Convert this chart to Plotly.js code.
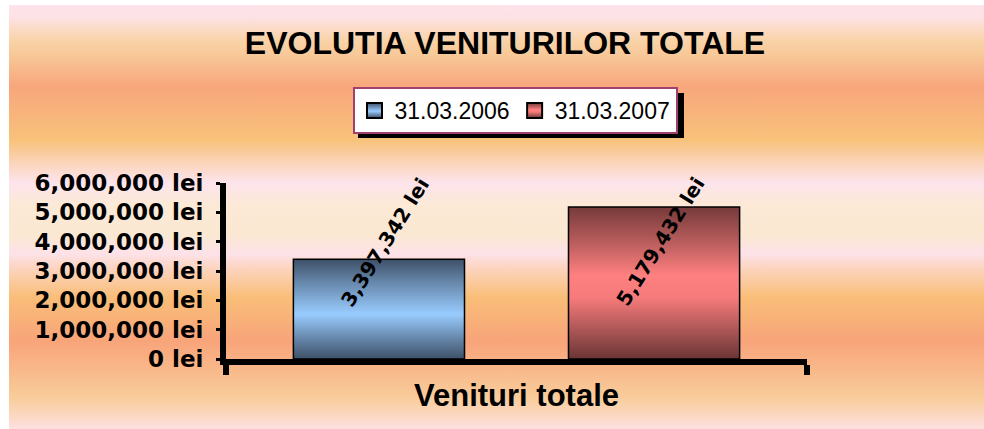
<!DOCTYPE html>
<html>
<head>
<meta charset="utf-8">
<script src="https://cdn.plot.ly/plotly-3.0.1.min.js"></script>
<style>
  html, body { margin: 0; padding: 0; background: #ffffff; }
  #bg {
    position: absolute; left: 9px; top: 5px; right: 0; bottom: 0;
    background: linear-gradient(to bottom,
      #fde4ea 0px, #fde2e4 13px, #f9d3a8 35px, #f8c898 50px, #f8a67c 82px,
      #f8c27a 135px, #fbd6c0 160px, #fde4ec 178px, #fce9d6 200px, #fbe8d2 230px,
      #fde2e8 249px, #fcd4c0 263px, #f9be78 292px, #f8a47a 336px, #f9cc9a 392px,
      #fde0e0 424px);
  }
  #chart { position: absolute; left: 0; top: 0; width: 984px; height: 429px; }
</style>
</head>
<body>
<div id="bg"></div>
<div id="chart"></div>
<script>
// ---- data ----
const categories = ["Venituri totale"];
const seriesNames = ["31.03.2006", "31.03.2007"];
const values2006 = [3397342];
const values2007 = [5179432];
const yTickVals = [0, 1000000, 2000000, 3000000, 4000000, 5000000, 6000000];
const yTickText = ["0 lei", "1,000,000 lei", "2,000,000 lei", "3,000,000 lei", "4,000,000 lei", "5,000,000 lei", "6,000,000 lei"];
const chartTitle = "EVOLUTIA VENITURILOR TOTALE";

const fmt = v => v.toLocaleString('en-US') + ' lei';

const bargap = 0.053;
const bargroupgap = 0.378;
const slot = (1 - bargap) / 2;

const traces = [
  { type: 'bar', name: seriesNames[0], x: categories, y: values2006,
    marker: { color: '#99ccff', line: { color: '#000000', width: 1.5 } }, hoverinfo: 'none' },
  { type: 'bar', name: seriesNames[1], x: categories, y: values2007,
    marker: { color: '#ff8080', line: { color: '#000000', width: 1.5 } }, hoverinfo: 'none' }
];

const labelFont = { family: 'DejaVu Sans, Arial', size: 20, color: '#000000', weight: 'bold' };
const annotations = [values2006, values2007].map((vals, i) => ({
  xref: 'x', yref: 'y',
  x: (i === 0 ? -slot / 2 : slot / 2), y: 4000000,
  xshift: 6,
  text: '<b>' + fmt(vals[0]) + '</b>',
  showarrow: false, textangle: -58,
  xanchor: 'center', yanchor: 'middle',
  font: labelFont
}));

const layout = {
  width: 984, height: 429,
  margin: { l: 226, r: 177, t: 183, b: 70 },
  paper_bgcolor: 'rgba(0,0,0,0)',
  plot_bgcolor: 'rgba(0,0,0,0)',
  barmode: 'group', bargap: bargap, bargroupgap: bargroupgap,
  showlegend: true,
  title: {
    text: '<b>' + chartTitle + '</b>',
    font: { family: 'Liberation Sans, Arial', size: 32, color: '#000000' },
    xref: 'container', yref: 'container', x: 505 / 984, y: 1 - 43 / 429,
    xanchor: 'center', yanchor: 'middle'
  },
  legend: {
    orientation: 'h',
    xref: 'container', yref: 'container',
    x: 515 / 984, y: 1 - 87 / 429, xanchor: 'center', yanchor: 'top',
    bgcolor: '#ffffff', bordercolor: '#a0406e', borderwidth: 2,
    font: { family: 'Liberation Sans, Arial', size: 23, color: '#000000' },
    traceorder: 'normal'
  },
  xaxis: {
    type: 'category', tickson: 'boundaries',
    showline: true, linecolor: '#000000', linewidth: 6,
    ticks: 'outside', ticklen: 10, tickwidth: 6, tickcolor: '#000000',
    showgrid: false, zeroline: false,
    tickfont: { family: 'Liberation Sans, Arial', size: 31, color: '#000000', weight: 'bold' },
    ticklabelstandoff: 4,
    fixedrange: true
  },
  yaxis: {
    range: [0, 6000000], tickvals: yTickVals, ticktext: yTickText,
    showline: true, linecolor: '#000000', linewidth: 6,
    ticks: 'outside', ticklen: 4, tickwidth: 3, tickcolor: '#000000',
    showgrid: false, zeroline: false,
    tickfont: { family: 'DejaVu Sans, Arial', size: 23, color: '#000000', weight: 'bold' },
    ticklabelstandoff: 8,
    fixedrange: true
  },
  shapes: [
    { type: 'rect', xref: 'paper', yref: 'paper', layer: 'below',
      x0: (358 - 226) / 581, x1: (684 - 226) / 581,
      y0: (359 - 138) / 176, y1: (359 - 93) / 176,
      fillcolor: '#000000', line: { width: 0 } }
  ],
  annotations: annotations
};

const gradStops = [
  [[0, '#3d5068'], [0.22, '#6585a8'], [0.55, '#99ccff'], [0.8, '#6585a8'], [1, '#3d5068']],
  [[0, '#773a3a'], [0.2, '#b05858'], [0.45, '#ff8080'], [0.6, '#f57a7a'], [0.82, '#a85454'], [1, '#6b3535']]
];

Plotly.newPlot('chart', traces, layout, { displayModeBar: false, staticPlot: true }).then(gd => {
  const svgNS = 'http://www.w3.org/2000/svg';
  const svg = gd.querySelector('svg.main-svg');
  let defs = svg.querySelector('defs');
  if (!defs) { defs = document.createElementNS(svgNS, 'defs'); svg.insertBefore(defs, svg.firstChild); }
  gradStops.forEach((stops, i) => {
    const lg = document.createElementNS(svgNS, 'linearGradient');
    lg.setAttribute('id', 'bargrad' + i);
    lg.setAttribute('x1', '0'); lg.setAttribute('y1', '0');
    lg.setAttribute('x2', '0'); lg.setAttribute('y2', '1');
    stops.forEach(([o, c]) => {
      const s = document.createElementNS(svgNS, 'stop');
      s.setAttribute('offset', o); s.setAttribute('stop-color', c);
      lg.appendChild(s);
    });
    defs.appendChild(lg);
  });
  gd.querySelectorAll('.barlayer .trace').forEach((tr, i) => {
    tr.querySelectorAll('path').forEach(p => { p.style.fill = 'url(#bargrad' + i + ')'; });
  });
  gd.querySelectorAll('.legend .traces').forEach((tr, i) => {
    tr.querySelectorAll('.legendpoints path').forEach(p => {
      p.style.fill = 'url(#bargrad' + i + ')';
      p.style.stroke = '#000000'; p.style.strokeWidth = '2px';
      p.setAttribute('d', 'M7.5,7.5H-7.5V-7.5H7.5Z');
    });
  });
});
</script>
</body>
</html>
